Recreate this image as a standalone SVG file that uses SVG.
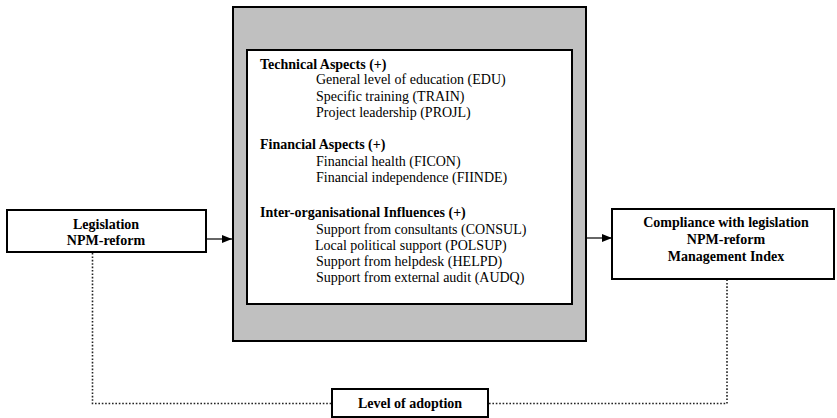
<svg xmlns="http://www.w3.org/2000/svg" width="837" height="418" viewBox="0 0 837 418">
<style>
.box{fill:#fff;stroke:#000;stroke-width:2}
.t{font-family:"Liberation Serif","Times New Roman",serif;font-size:14px;fill:#000}
.b{font-weight:bold}
.c{text-anchor:middle}
.dot{fill:none;stroke:#222;stroke-width:1.6;stroke-dasharray:1.6 1.8}
.arr{stroke:#000;stroke-width:1.2;fill:none}
</style>
<defs>
<marker id="ah" viewBox="0 0 10 10" refX="10" refY="5" markerWidth="10" markerHeight="10" markerUnits="userSpaceOnUse" orient="auto">
<path d="M0,1 L10,5 L0,9 Z" fill="#000"/>
</marker>
</defs>
<g id="connectors">
<line class="arr" x1="206" y1="239" x2="232" y2="239" marker-end="url(#ah)"/>
<line class="arr" x1="587" y1="238" x2="612" y2="238" marker-end="url(#ah)"/>
<path class="dot" d="M92.5,253 V403.5 H331"/>
<path class="dot" d="M489,403.5 H727 V280"/>
</g>
<g id="factors">
<rect x="233" y="7" width="353" height="334" fill="#c0c0c0" stroke="#000" stroke-width="2"/>
<rect class="box" x="247" y="50" width="325" height="254"/>
<text class="t b" x="260" y="69">Technical Aspects (+)</text>
<text class="t" x="316" y="84">General level of education (EDU)</text>
<text class="t" x="316" y="101">Specific training (TRAIN)</text>
<text class="t" x="316" y="117">Project leadership (PROJL)</text>
<text class="t b" x="260" y="149">Financial Aspects (+)</text>
<text class="t" x="316" y="166">Financial health (FICON)</text>
<text class="t" x="316" y="182">Financial independence (FIINDE)</text>
<text class="t b" x="260" y="217">Inter-organisational Influences (+)</text>
<text class="t" x="316" y="234">Support from consultants (CONSUL)</text>
<text class="t" x="315" y="250">Local political support (POLSUP)</text>
<text class="t" x="316" y="266">Support from helpdesk (HELPD)</text>
<text class="t" x="316" y="282">Support from external audit (AUDQ)</text>
</g>
<g id="legislation">
<rect class="box" x="7" y="210" width="199" height="42"/>
<text class="t b c" x="106" y="229">Legislation</text>
<text class="t b c" x="106" y="245">NPM-reform</text>
</g>
<g id="compliance">
<rect class="box" x="612" y="209" width="222" height="70"/>
<text class="t b c" x="726" y="227">Compliance with legislation</text>
<text class="t b c" x="726" y="244">NPM-reform</text>
<text class="t b c" x="726" y="261">Management Index</text>
</g>
<g id="adoption">
<rect class="box" x="332" y="389" width="156" height="28"/>
<text class="t b c" x="410" y="408">Level of adoption</text>
</g>
</svg>
